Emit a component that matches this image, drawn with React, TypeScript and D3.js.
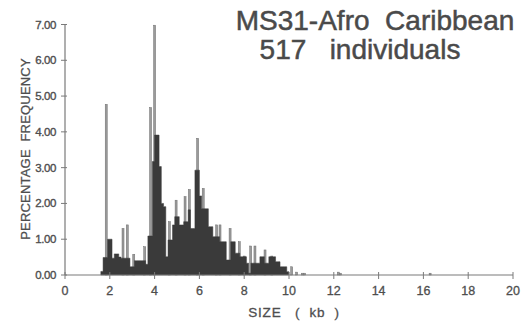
import React from "react";
import * as d3 from "d3";

const binWidth = 0.1;
const binStarts = [
  1.6, 1.7, 1.8, 1.9, 2.0, 2.1, 2.2, 2.3, 2.4, 2.5, 2.6, 2.7, 2.8, 2.9, 3.0, 3.1, 3.2, 3.3, 3.4, 3.5,
  3.6, 3.7, 3.8, 3.9, 4.0, 4.1, 4.2, 4.3, 4.4, 4.5, 4.6, 4.7, 4.8, 4.9, 5.0, 5.1, 5.2, 5.3, 5.4, 5.5,
  5.6, 5.7, 5.8, 5.9, 6.0, 6.1, 6.2, 6.3, 6.4, 6.5, 6.6, 6.7, 6.8, 6.9, 7.0, 7.1, 7.2, 7.3, 7.4, 7.5,
  7.6, 7.7, 7.8, 7.9, 8.0, 8.1, 8.2, 8.3, 8.4, 8.5, 8.6, 8.7, 8.8, 8.9, 9.0, 9.1, 9.2, 9.3, 9.4, 9.5,
  9.6, 9.7, 9.8, 9.9,
];
const binValues = [
  0.1, 0.49, 0.49, 1.0, 1.0, 0.47, 0.59, 0.59, 0.5, 0.47, 0.47, 0.47, 0.47, 0.23, 0.23, 0.4, 0.4, 0.4, 0.4, 0.4,
  0.3, 1.09, 1.09, 3.17, 3.91, 3.91, 3.03, 2.0, 1.91, 0.51, 0.98, 0.98, 1.4, 1.63, 1.63, 1.4, 1.4, 1.49, 1.49, 1.82,
  1.3, 1.3, 2.93, 2.93, 2.21, 1.85, 1.85, 1.85, 1.35, 1.35, 1.07, 1.07, 1.07, 0.93, 0.93, 0.93, 0.42, 0.42, 0.93, 0.93,
  0.61, 0.61, 0.51, 0.51, 0.51, 0.33, 0.05, 0.33, 0.33, 0.33, 0.33, 0.51, 0.51, 0.33, 0.33, 0.51, 0.51, 0.51, 0.37, 0.37,
  0.23, 0.23, 0.23, 0.09,
];
const spikeSizes = [
  1.84, 2.59, 2.78, 3.07, 3.56, 3.82, 4.0, 4.66, 4.96, 5.36, 5.55, 5.92, 6.17, 6.77, 6.92, 7.37, 7.78, 8.0,
  8.29, 8.48, 8.93, 9.23, 10.12, 10.34, 10.6, 10.7, 12.2, 12.3, 16.3,
];
const spikeValues = [
  4.77, 1.3, 1.4, 0.58, 0.79, 4.68, 6.98, 1.49, 2.09, 2.19, 2.39, 3.82, 2.42, 1.4, 1.4, 1.3, 0.93, 0.53,
  0.81, 0.81, 0.7, 0.53, 0.23, 0.08, 0.05, 0.05, 0.08, 0.05, 0.05,
];
const xTicks = [0, 2, 4, 6, 8, 10, 12, 14, 16, 18, 20];
const yTicks = [0, 1, 2, 3, 4, 5, 6, 7];
const titleLines = ["MS31-Afro  Caribbean", "517   individuals"];
const xLabel = "SIZE   (  kb  )";
const yLabel = "PERCENTAGE  FREQUENCY";

export default function App() {
  const W = 530, H = 329;
  const x = d3.scaleLinear().domain([0, 20]).range([65, 513]);
  const y = d3.scaleLinear().domain([0, 7]).range([275, 24.5]);
  const axis = "#7a7a7a";
  const font = "'Liberation Sans', Arial, sans-serif";
  const pts: [number, number][] = binStarts.map((s, i) => [s, binValues[i]]);
  pts.push([binStarts[binStarts.length - 1] + binWidth, 0]);
  const area = d3
    .area<[number, number]>()
    .x((d) => x(d[0]))
    .y0(y(0))
    .y1((d) => y(d[1]))
    .curve(d3.curveStepAfter);
  const txt = "#4e4e4e";
  return (
    <svg width={W} height={H} style={{ position: "absolute", left: 0, top: 0, background: "#fff" }}>
      {spikeSizes.map((s, i) => (
        <rect key={"s" + i} x={x(s) - 1} y={y(spikeValues[i])} width={2}
          height={y(0) - y(spikeValues[i])} fill="#9a9a9a" stroke="#6e6e6e" strokeWidth={0.5} />
      ))}
      <path d={area(pts) || ""} fill="#3a3a3a" stroke="#3a3a3a" strokeWidth={0.5} />
      <line x1={x(0)} x2={x(20)} y1={y(0)} y2={y(0)} stroke={axis} strokeWidth={1.2} />
      <line x1={x(0)} x2={x(0)} y1={y(0)} y2={y(7)} stroke={axis} strokeWidth={1.2} />
      {yTicks.map((t) => (
        <g key={"yt" + t}>
          <line x1={x(0) - 4} x2={x(0) + 2} y1={y(t)} y2={y(t)} stroke={axis} strokeWidth={1} />
          <text x={x(0) - 9} y={y(t) + 4} textAnchor="end" fontFamily={font} fontSize={11.5}
            fill={txt} stroke={txt} strokeWidth={0.35} letterSpacing={-0.4}>{t.toFixed(2)}</text>
        </g>
      ))}
      {xTicks.map((t) => (
        <g key={"xt" + t}>
          <line x1={x(t)} x2={x(t)} y1={y(0) - 3} y2={y(0) + 4} stroke={axis} strokeWidth={1} />
          <text x={x(t)} y={y(0) + 20} textAnchor="middle" fontFamily={font} fontSize={12.5}
            fill={txt} stroke={txt} strokeWidth={0.3}>{t}</text>
        </g>
      ))}
      <text x={294} y={317} textAnchor="middle" fontFamily={font} fontSize={13.5} fill={txt}
        stroke={txt} strokeWidth={0.3} letterSpacing={0.8} style={{ whiteSpace: "pre" }}>{xLabel}</text>
      <text transform={`translate(30,149) rotate(-90)`} textAnchor="middle" fontFamily={font}
        fontSize={13} fill={txt} stroke={txt} strokeWidth={0.25} letterSpacing={0.2}
        style={{ whiteSpace: "pre" }}>{yLabel}</text>
      <text x={375} y={30} textAnchor="middle" fontFamily={font} fontSize={28} fill="#4a4a4a"
        stroke="#4a4a4a" strokeWidth={0.5} style={{ whiteSpace: "pre" }}>{titleLines[0]}</text>
      <text x={360} y={59} textAnchor="middle" fontFamily={font} fontSize={28} fill="#4a4a4a"
        stroke="#4a4a4a" strokeWidth={0.5} style={{ whiteSpace: "pre" }}>{titleLines[1]}</text>
    </svg>
  );
}
